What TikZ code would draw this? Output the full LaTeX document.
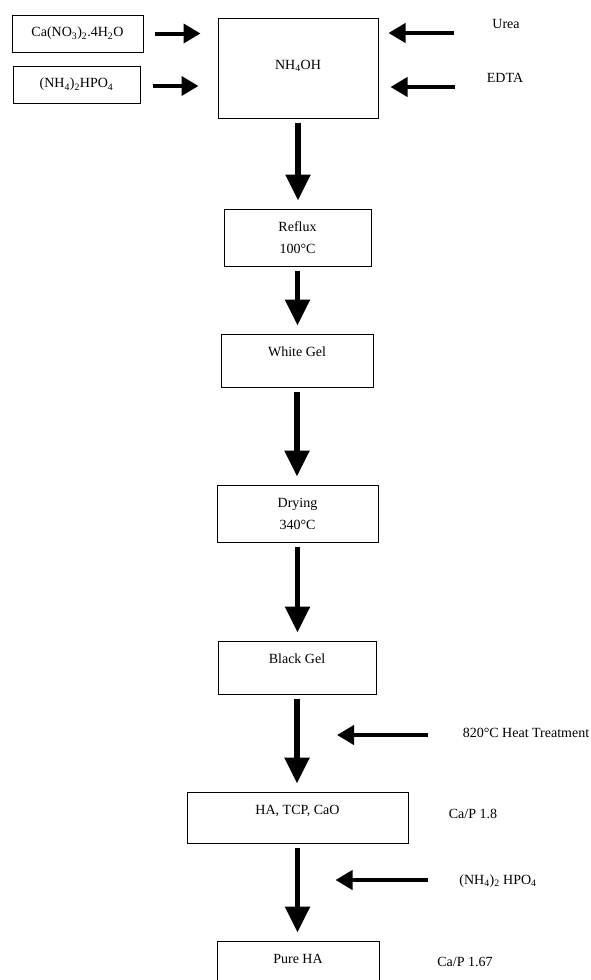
\documentclass[tikz,border=0pt]{standalone}
\usepackage{fontspec}
\setmainfont{Liberation Serif}
\usepackage{tikz}
\usetikzlibrary{arrows.meta,positioning}

\tikzset{
  stepbox/.style={draw, line width=1pt, inner xsep=2pt, inner ysep=12pt, align=center},
  note/.style={inner sep=0pt, text height=10pt, text depth=3pt},
  flow/.style={line width=5.7pt, -{Triangle[width=24pt,length=26pt]}, shorten <=4pt, shorten >=8pt},
  feed/.style={line width=4pt, -{Triangle[width=19pt,length=17pt]}}
}

\begin{document}
\begin{tikzpicture}[x=1pt, y=-1pt, font=\fontsize{14}{22}\selectfont]
  \useasboundingbox (0,0) rectangle (591,980);

  % starting materials
  \node[stepbox, minimum width=131pt, minimum height=37pt, inner ysep=4pt] (calc) at (77.5,33.5) {Ca(NO\textsubscript{3})\textsubscript{2}.4H\textsubscript{2}O};
  \node[stepbox, minimum width=127pt, minimum height=37pt, inner ysep=4pt] (dap) at (76.5,84.5) {(NH\textsubscript{4})\textsubscript{2}HPO\textsubscript{4}};
  \node[stepbox, minimum width=160pt, text height=39pt, text depth=37pt] (mix) at (298,68) {NH\textsubscript{4}OH};
  \node[note] (urea) at (506,25) {Urea};
  \node[note] (edta) at (505,78.5) {EDTA};

  % process steps
  \node[stepbox, minimum width=147pt, minimum height=57pt, inner ysep=4pt] (reflux) at (297.5,237.5) {Reflux\\100°C};
  \node[stepbox, minimum width=152pt, text height=10pt, text depth=19pt] (white) at (297,360.5) {White Gel};
  \node[stepbox, minimum width=161pt, minimum height=57pt, inner ysep=4pt] (dry) at (297.5,513.5) {Drying\\340°C};
  \node[stepbox, minimum width=158pt, text height=10pt, text depth=19pt] (black) at (297,667.5) {Black Gel};
  \node[stepbox, minimum width=221pt, text height=10pt, text depth=17pt] (mixed) at (297.5,817.5) {HA, TCP, CaO};
  \node[stepbox, minimum width=162pt, text height=10pt, text depth=19pt] (pure) at (298,967.5) {Pure HA};

  \node[note] (heat) at (526,734) {820°C Heat Treatment};
  \node[note] (ratioone) at (473,815) {Ca/P 1.8};
  \node[note] (phos) at (498,881) {(NH\textsubscript{4})\textsubscript{2} HPO\textsubscript{4}};
  \node[note] (ratiotwo) at (465,963) {Ca/P 1.67};

  \coordinate (ureasrc) at (454,33);
  \coordinate (edtasrc) at (455,87);
  \coordinate (heatsrc) at (428,735);
  \coordinate (phossrc) at (428,880);

  % feeds
  \draw[feed, shorten <=11pt, shorten >=17pt] (calc.east) -- (calc.east -| mix.west);
  \draw[feed, shorten <=12pt, shorten >=19pt] (dap.east |- 0,86) -- (mix.west |- 0,86);
  \draw[feed, shorten >=10pt] (ureasrc) -- (ureasrc -| mix.east);
  \draw[feed, shorten >=12pt] (edtasrc) -- (edtasrc -| mix.east);
  \draw[feed, shorten >=40pt] (heatsrc) -- (heatsrc -| black.south);
  \draw[feed, shorten >=38pt] (phossrc) -- (phossrc -| mixed.south);

  % main line
  \draw[flow] (mix.south) -- (mix.south |- reflux.north);
  \draw[flow] (reflux.south) -- (reflux.south |- white.north);
  \draw[flow] (white.south) -- (white.south |- dry.north);
  \draw[flow] (dry.south) -- (dry.south |- black.north);
  \draw[flow] (black.south) -- (black.south |- mixed.north);
  \draw[flow] (mixed.south) -- (mixed.south |- pure.north);
\end{tikzpicture}
\end{document}
